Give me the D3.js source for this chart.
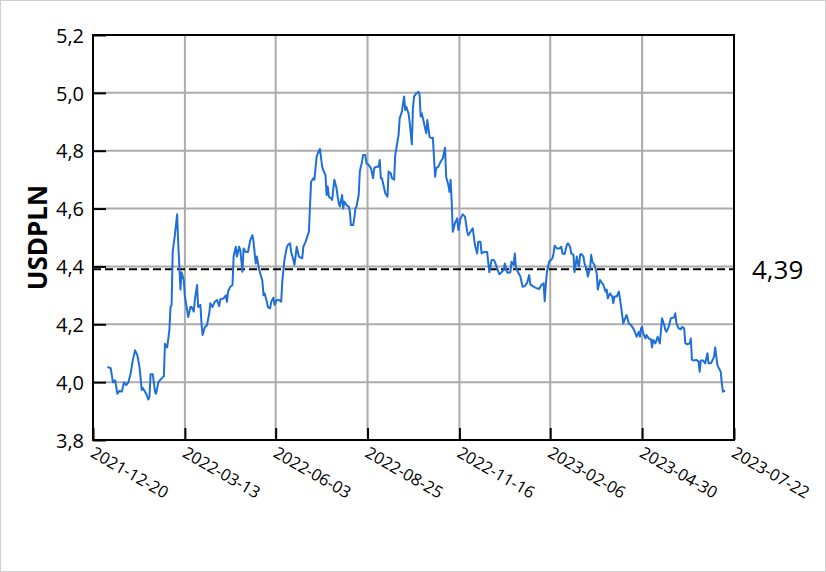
<!DOCTYPE html>
<html>
<head>
<meta charset="utf-8">
<script src="https://cdn.jsdelivr.net/npm/d3@7"></script>
<style>
  html, body { margin: 0; padding: 0; background: #fff; }
  svg { display: block; }
</style>
</head>
<body>
<svg id="chart" width="826" height="572"></svg>
<script>
const seriesName = "USDPLN";
const refValue = 4.39;
const xTickLabels = ["2021-12-20","2022-03-13","2022-06-03","2022-08-25","2022-11-16","2023-02-06","2023-04-30","2023-07-22"];
const yTicks = [3.8, 4.0, 4.2, 4.4, 4.6, 4.8, 5.0, 5.2];

const dates = [
"2022-01-02","2022-01-05","2022-01-07","2022-01-09","2022-01-11","2022-01-13","2022-01-15","2022-01-17","2022-01-19","2022-01-21",
"2022-01-23","2022-01-25","2022-01-27","2022-01-29","2022-01-31","2022-02-02","2022-02-03","2022-02-05","2022-02-06","2022-02-08",
"2022-02-09","2022-02-10","2022-02-12","2022-02-14","2022-02-15","2022-02-17","2022-02-20","2022-02-22","2022-02-23","2022-02-25",
"2022-02-27","2022-02-28","2022-03-01","2022-03-02","2022-03-04","2022-03-06","2022-03-07","2022-03-09","2022-03-10","2022-03-12",
"2022-03-13","2022-03-15","2022-03-16","2022-03-18","2022-03-19","2022-03-21","2022-03-22","2022-03-24","2022-03-25","2022-03-27",
"2022-03-28","2022-03-29","2022-03-31","2022-04-02","2022-04-04","2022-04-05","2022-04-07","2022-04-09","2022-04-11","2022-04-13",
"2022-04-14","2022-04-17","2022-04-19","2022-04-20","2022-04-21","2022-04-23","2022-04-25","2022-04-26","2022-04-28","2022-04-29",
"2022-05-01","2022-05-02","2022-05-04","2022-05-05","2022-05-07","2022-05-09","2022-05-11","2022-05-13","2022-05-14","2022-05-16",
"2022-05-17","2022-05-19","2022-05-22","2022-05-23","2022-05-24","2022-05-26","2022-05-27","2022-05-29","2022-05-30","2022-06-01",
"2022-06-02","2022-06-04","2022-06-06","2022-06-08","2022-06-09","2022-06-11","2022-06-13","2022-06-14","2022-06-16","2022-06-17",
"2022-06-19","2022-06-20","2022-06-22","2022-06-24","2022-06-27","2022-06-28","2022-06-30","2022-07-02","2022-07-03","2022-07-05",
"2022-07-07","2022-07-08","2022-07-09","2022-07-10","2022-07-12","2022-07-13","2022-07-15","2022-07-16","2022-07-18","2022-07-19",
"2022-07-20","2022-07-21","2022-07-23","2022-07-24","2022-07-26","2022-07-28","2022-07-29","2022-07-30","2022-07-31","2022-08-02",
"2022-08-03","2022-08-04","2022-08-06","2022-08-08","2022-08-09","2022-08-10","2022-08-12","2022-08-13","2022-08-14","2022-08-15",
"2022-08-17","2022-08-18","2022-08-20","2022-08-21","2022-08-23","2022-08-24","2022-08-26","2022-08-28","2022-08-30","2022-08-31",
"2022-09-02","2022-09-04","2022-09-05","2022-09-06","2022-09-07","2022-09-09","2022-09-10","2022-09-12","2022-09-13","2022-09-15",
"2022-09-16","2022-09-18","2022-09-19","2022-09-21","2022-09-22","2022-09-23","2022-09-25","2022-09-27","2022-09-28","2022-09-29",
"2022-10-01","2022-10-02","2022-10-04","2022-10-05","2022-10-06","2022-10-08","2022-10-10","2022-10-11","2022-10-12","2022-10-13",
"2022-10-15","2022-10-17","2022-10-18","2022-10-20","2022-10-22","2022-10-23","2022-10-25","2022-10-26","2022-10-28","2022-10-30",
"2022-11-01","2022-11-03","2022-11-04","2022-11-06","2022-11-07","2022-11-08","2022-11-09","2022-11-10","2022-11-12","2022-11-14",
"2022-11-15","2022-11-17","2022-11-19","2022-11-21","2022-11-23","2022-11-24","2022-11-26","2022-11-28","2022-11-30","2022-12-02",
"2022-12-03","2022-12-05","2022-12-06","2022-12-08","2022-12-09","2022-12-11","2022-12-13","2022-12-15","2022-12-17","2022-12-18",
"2022-12-20","2022-12-22","2022-12-24","2022-12-26","2022-12-27","2022-12-29","2022-12-30","2023-01-01","2023-01-02","2023-01-04",
"2023-01-05","2023-01-06","2023-01-08","2023-01-10","2023-01-12","2023-01-14","2023-01-16","2023-01-18","2023-01-19","2023-01-22",
"2023-01-24","2023-01-27","2023-01-29","2023-01-31","2023-02-01","2023-02-02","2023-02-03","2023-02-05","2023-02-08","2023-02-09",
"2023-02-10","2023-02-12","2023-02-14","2023-02-16","2023-02-17","2023-02-19","2023-02-21","2023-02-22","2023-02-24","2023-02-25",
"2023-02-27","2023-02-28","2023-03-02","2023-03-03","2023-03-04","2023-03-05","2023-03-06","2023-03-08","2023-03-09","2023-03-11",
"2023-03-12","2023-03-14","2023-03-15","2023-03-16","2023-03-18","2023-03-20","2023-03-21","2023-03-23","2023-03-24","2023-03-26",
"2023-03-28","2023-03-29","2023-03-30","2023-04-01","2023-04-03","2023-04-04","2023-04-05","2023-04-07","2023-04-09","2023-04-11",
"2023-04-13","2023-04-15","2023-04-16","2023-04-18","2023-04-20","2023-04-22","2023-04-24","2023-04-25","2023-04-27","2023-04-28",
"2023-04-29","2023-04-30","2023-05-01","2023-05-03","2023-05-04","2023-05-06","2023-05-08","2023-05-09","2023-05-10","2023-05-12",
"2023-05-14","2023-05-16","2023-05-18","2023-05-20","2023-05-21","2023-05-22","2023-05-24","2023-05-26","2023-05-29","2023-05-30",
"2023-05-31","2023-06-02","2023-06-04","2023-06-05","2023-06-07","2023-06-08","2023-06-10","2023-06-12","2023-06-13","2023-06-14",
"2023-06-16","2023-06-18","2023-06-20","2023-06-21","2023-06-22","2023-06-24","2023-06-26","2023-06-28","2023-06-29","2023-07-01",
"2023-07-02","2023-07-04","2023-07-05","2023-07-07","2023-07-08","2023-07-10","2023-07-11","2023-07-12","2023-07-14"
];

const values = [
4.053,4.048,4.000,4.006,3.960,3.970,3.967,3.999,3.990,4.000,
4.030,4.077,4.110,4.094,4.053,3.973,3.980,3.967,3.960,3.940,
3.950,4.027,4.027,3.967,3.960,4.000,4.013,4.020,4.133,4.120,
4.180,4.260,4.267,4.450,4.510,4.580,4.480,4.320,4.380,4.353,
4.296,4.250,4.225,4.260,4.260,4.244,4.284,4.336,4.260,4.267,
4.203,4.163,4.190,4.197,4.238,4.273,4.260,4.278,4.284,4.263,
4.286,4.290,4.300,4.278,4.313,4.330,4.336,4.434,4.468,4.434,
4.468,4.457,4.382,4.462,4.450,4.450,4.490,4.508,4.485,4.410,
4.434,4.390,4.350,4.300,4.307,4.278,4.259,4.255,4.278,4.292,
4.267,4.284,4.284,4.278,4.350,4.425,4.465,4.474,4.480,4.450,
4.422,4.405,4.468,4.434,4.428,4.468,4.485,4.508,4.520,4.693,
4.705,4.700,4.740,4.780,4.800,4.806,4.745,4.733,4.716,4.647,
4.676,4.641,4.635,4.630,4.700,4.670,4.641,4.618,4.607,4.647,
4.600,4.624,4.612,4.607,4.590,4.543,4.543,4.566,4.600,4.607,
4.647,4.728,4.762,4.785,4.785,4.756,4.751,4.740,4.705,4.740,
4.745,4.745,4.768,4.705,4.705,4.670,4.653,4.641,4.728,4.722,
4.705,4.700,4.785,4.831,4.854,4.912,4.935,4.987,4.941,4.952,
4.929,4.900,4.822,4.947,4.987,4.998,5.004,4.993,4.918,4.929,
4.895,4.860,4.906,4.848,4.843,4.845,4.710,4.740,4.745,4.762,
4.774,4.810,4.710,4.681,4.658,4.700,4.624,4.520,4.550,4.566,
4.526,4.566,4.580,4.572,4.520,4.508,4.520,4.532,4.474,4.445,
4.485,4.485,4.445,4.450,4.450,4.450,4.380,4.422,4.422,4.416,
4.394,4.373,4.380,4.388,4.410,4.380,4.378,4.380,4.416,4.405,
4.445,4.396,4.380,4.365,4.330,4.332,4.342,4.370,4.338,4.330,
4.326,4.322,4.336,4.342,4.280,4.336,4.380,4.416,4.428,4.445,
4.472,4.462,4.462,4.468,4.445,4.443,4.474,4.480,4.468,4.445,
4.440,4.380,4.434,4.410,4.400,4.440,4.443,4.434,4.410,4.388,
4.365,4.394,4.440,4.416,4.405,4.376,4.320,4.353,4.347,4.336,
4.313,4.320,4.290,4.307,4.296,4.273,4.296,4.296,4.313,4.261,
4.203,4.224,4.232,4.203,4.197,4.186,4.169,4.157,4.174,4.157,
4.186,4.191,4.169,4.151,4.163,4.151,4.148,4.120,4.146,4.134,
4.157,4.134,4.221,4.197,4.180,4.174,4.191,4.221,4.224,4.238,
4.203,4.186,4.183,4.191,4.186,4.134,4.131,4.134,4.151,4.077,
4.075,4.077,4.071,4.036,4.075,4.075,4.065,4.100,4.065,4.065,
4.071,4.088,4.120,4.059,4.051,4.036,3.996,3.967,3.971
];

const parse = d3.utcParse("%Y-%m-%d");
const data = dates.map((d, i) => ({ date: parse(d), value: values[i] }));

const W = 826, H = 572;
const margin = { left: 93, right: 92, top: 35, bottom: 132 };
const plotW = W - margin.left - margin.right;
const plotH = H - margin.top - margin.bottom;

const svg = d3.select("#chart");
svg.append("rect").attr("x", 0.5).attr("y", 0.5).attr("width", W - 1).attr("height", H - 1)
  .attr("fill", "#fff").attr("stroke", "#cfcfcf").attr("stroke-width", 1);

const g = svg.append("g").attr("transform", `translate(${margin.left},${margin.top})`);

const xTickDates = xTickLabels.map(parse);
const x = d3.scaleUtc().domain([xTickDates[0], xTickDates[xTickDates.length - 1]]).range([0, plotW]);
const y = d3.scaleLinear().domain([3.8, 5.2]).range([plotH, 0]);

const fmt = v => d3.format(".1f")(v).replace(".", ",");
const fmt2 = v => d3.format(".2f")(v).replace(".", ",");

// grid
g.append("g").selectAll("line").data(xTickDates.slice(1, -1)).join("line")
  .attr("x1", d => x(d)).attr("x2", d => x(d)).attr("y1", 0).attr("y2", plotH)
  .attr("stroke", "#ababab").attr("stroke-width", 2);
g.append("g").selectAll("line").data(yTicks.slice(1, -1)).join("line")
  .attr("x1", 0).attr("x2", plotW).attr("y1", d => y(d)).attr("y2", d => y(d))
  .attr("stroke", "#ababab").attr("stroke-width", 2);

// reference line
g.append("line")
  .attr("x1", 0).attr("x2", plotW).attr("y1", y(refValue)).attr("y2", y(refValue))
  .attr("stroke", "#000").attr("stroke-width", 2).attr("stroke-dasharray", "8,4");

// series line
const line = d3.line().x(d => x(d.date)).y(d => y(d.value));
g.append("path").datum(data).attr("d", line)
  .attr("fill", "none").attr("stroke", "#1f6fd8").attr("stroke-width", 2)
  .attr("stroke-linejoin", "round");

// axes
const yAxis = d3.axisLeft(y).tickValues(yTicks).tickSize(-13).tickPadding(9).tickFormat(fmt);
const yg = g.append("g").call(yAxis);
yg.select(".domain").remove();
yg.selectAll(".tick line").attr("stroke", "#000").attr("stroke-width", 2);
yg.selectAll(".tick text").attr("font-family", "'Open Sans', sans-serif").attr("font-size", 20)
  .attr("fill", "#000").attr("dy", "0.36em");

const xAxis = d3.axisBottom(x).tickValues(xTickDates).tickSize(-12).tickFormat((d, i) => xTickLabels[i]);
const xg = g.append("g").attr("transform", `translate(0,${plotH})`).call(xAxis);
xg.select(".domain").remove();
xg.selectAll(".tick line").attr("stroke", "#000").attr("stroke-width", 2);
xg.selectAll(".tick text")
  .attr("font-family", "'Open Sans', sans-serif").attr("font-size", 16.5).attr("fill", "#000")
  .attr("text-anchor", "start").attr("x", 0).attr("y", 0).attr("dy", 0)
  .attr("transform", "translate(-4,16) rotate(30)");

// frame
g.append("rect").attr("x", 0).attr("y", 0).attr("width", plotW).attr("height", plotH)
  .attr("fill", "none").attr("stroke", "#000").attr("stroke-width", 2);

// labels
svg.append("text")
  .attr("transform", `translate(38,${margin.top + plotH / 2}) rotate(-90)`)
  .attr("text-anchor", "middle").attr("dy", "0.36em")
  .attr("font-family", "'Open Sans', sans-serif").attr("font-weight", "bold").attr("font-size", 26)
  .text(seriesName);

svg.append("text")
  .attr("x", margin.left + plotW + 18).attr("y", margin.top + y(refValue)).attr("dy", "0.36em")
  .attr("font-family", "'Open Sans', sans-serif").attr("font-size", 26)
  .text(fmt2(refValue));
</script>
</body>
</html>
